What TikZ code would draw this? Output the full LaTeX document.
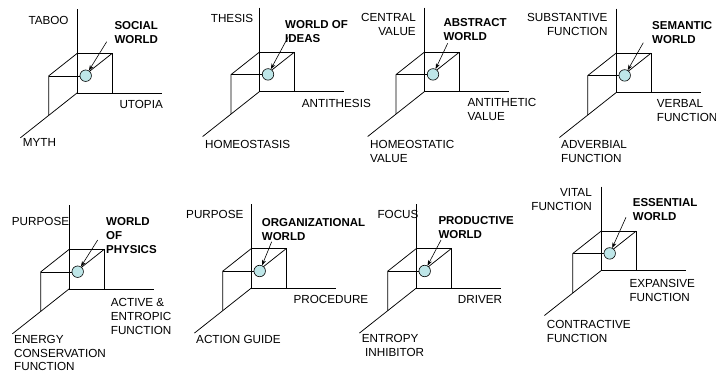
\documentclass[tikz,border=0pt]{standalone}
\usepackage{fontspec}
\setmainfont{Liberation Sans}
\usetikzlibrary{calc,arrows.meta}
\definecolor{ballfill}{RGB}{190,230,232}
\tikzset{
  axisline/.style={line width=0.75pt,black},
  ball/.style={circle,draw=black,line width=0.6pt,fill=ballfill,minimum size=11.5pt,inner sep=0pt},
  arr/.style={line width=0.6pt,-{Stealth[length=5.5pt,width=4pt]}},
  lbl/.style={anchor=north west,inner sep=0pt,align=left,font=\fontsize{11.7}{14}\selectfont},
  lblr/.style={anchor=north east,inner sep=0pt,align=right,font=\fontsize{11.7}{14}\selectfont},
  blbl/.style={lbl,font=\fontsize{11.5}{14}\selectfont\bfseries},
}
\newcommand\cubepanel[5]{%
  \coordinate (#1o) at (#2,#3);
  \coordinate (#1top) at ($(#1o)+(0,-84)$);
  \coordinate (#1rend) at ($(#1o)+(85,0)$);
  \coordinate (#1dend) at ($(#1o)+(-56.6,44.8)$);
  \coordinate (#1up) at ($(#1o)+(0,-39.5)$);
  \coordinate (#1rt) at ($(#1o)+(35,0)$);
  \coordinate (#1ur) at ($(#1o)+(35,-39.5)$);
  \coordinate (#1bk) at ($(#1o)+(-28.3,-17.1)$);
  \coordinate (#1dd) at ($(#1o)+(-28.3,22.4)$);
  \coordinate (#1far) at ($(#1o)+(6.7,-17.1)$);
  \coordinate (#1a) at ($(#1o)+(#4,#5)$);
  \draw[axisline] (#1top) -- (#1o) -- (#1rend);
  \draw[axisline] (#1o) -- (#1dend);
  \draw[axisline] (#1up) -- (#1ur) -- (#1rt);
  \draw[axisline] (#1up) -- (#1bk) -- (#1dd);
  \draw[axisline] (#1bk) -- (#1far);
  \draw[axisline] (#1ur) -- (#1far);
  \node[ball] (#1c) at ($(#1o)+(8.7,-17.3)$) {};
  \draw[arr] (#1a) -- (#1c);
}
\begin{document}
\begin{tikzpicture}[x=1pt,y=-1pt]
\useasboundingbox (0,0) rectangle (716,373);
\clip (0,0) rectangle (716,373);
% panels
\cubepanel{pa}{77}{93}{29.7}{-51.3}
\cubepanel{pb}{259.3}{91.7}{29}{-55}
\cubepanel{pc}{424.3}{91.7}{23.4}{-48.4}
\cubepanel{pd}{616}{92.7}{27.3}{-50}
\cubepanel{pe}{69}{289}{28.7}{-49}
\cubepanel{pf}{251}{288.3}{20.7}{-46.6}
\cubepanel{pg}{416}{288.3}{25}{-48.3}
\cubepanel{ph}{601}{270.7}{25}{-53.4}
% panel 1
\node[lbl] (ta) at (28.3,15.8) {TABOO};
\node[blbl] (sw) at (114.3,21.1) {SOCIAL\\WORLD};
\node[lbl] (ut) at (119.3,100.1) {UTOPIA};
\node[lbl] (my) at (22.7,138.5) {MYTH};
% panel 2
\node[lbl] (th) at (210.7,14.1) {THESIS};
\node[blbl] (wi) at (285,20.1) {WORLD OF\\IDEAS};
\node[lbl] (an) at (301.7,99.1) {ANTITHESIS};
\node[lbl] (ho) at (205,140.1) {HOMEOSTASIS};
% panel 3
\node[lblr] (cv) at (416,13.5) {CENTRAL\\VALUE};
\node[blbl] (aw) at (443.3,18.5) {ABSTRACT\\WORLD};
\node[lbl] (av) at (467.3,97.8) {ANTITHETIC\\VALUE};
\node[lbl] (hv) at (370,140.1) {HOMEOSTATIC\\VALUE};
% panel 4
\node[lblr] (sf) at (607.7,13.5) {SUBSTANTIVE\\FUNCTION};
\node[blbl] (smw) at (652,21.1) {SEMANTIC\\WORLD};
\node[lbl] (vf) at (656.7,99.1) {VERBAL\\FUNCTION};
\node[lbl] (af) at (561,140.1) {ADVERBIAL\\FUNCTION};
% panel 5
\node[lbl] (pu1) at (11.7,216.8) {PURPOSE};
\node[blbl] (wp) at (106,217.5) {WORLD\\OF\\PHYSICS};
\node[lbl] (ae) at (110.7,298.5) {ACTIVE \&\\ENTROPIC\\FUNCTION};
\node[lbl,font=\fontsize{11.7}{13.6}\selectfont] (ec) at (14,335.3) {ENERGY\\CONSERVATION\\FUNCTION};
% panel 6
\node[lbl] (pu2) at (186,210.1) {PURPOSE};
\node[blbl] (ow) at (261.7,218.5) {ORGANIZATIONAL\\WORLD};
\node[lbl] (pr) at (293.3,295.1) {PROCEDURE};
\node[lbl] (ag) at (196,335.1) {ACTION GUIDE};
% panel 7
\node[lbl] (fo) at (377.3,210.1) {FOCUS};
\node[blbl] (pw) at (438.3,216.1) {PRODUCTIVE\\WORLD};
\node[lbl] (dr) at (457.7,295.1) {DRIVER};
\node[lbl] (ei) at (361.7,334.5) {ENTROPY\\\ INHIBITOR};
% panel 8
\node[lblr] (vt) at (592,188.5) {VITAL\\FUNCTION};
\node[blbl] (ew) at (632.7,198.5) {ESSENTIAL\\WORLD};
\node[lbl] (xf) at (629.3,279.1) {EXPANSIVE\\FUNCTION};
\node[lbl] (cf) at (546.7,320.1) {CONTRACTIVE\\FUNCTION};
\end{tikzpicture}
\end{document}
